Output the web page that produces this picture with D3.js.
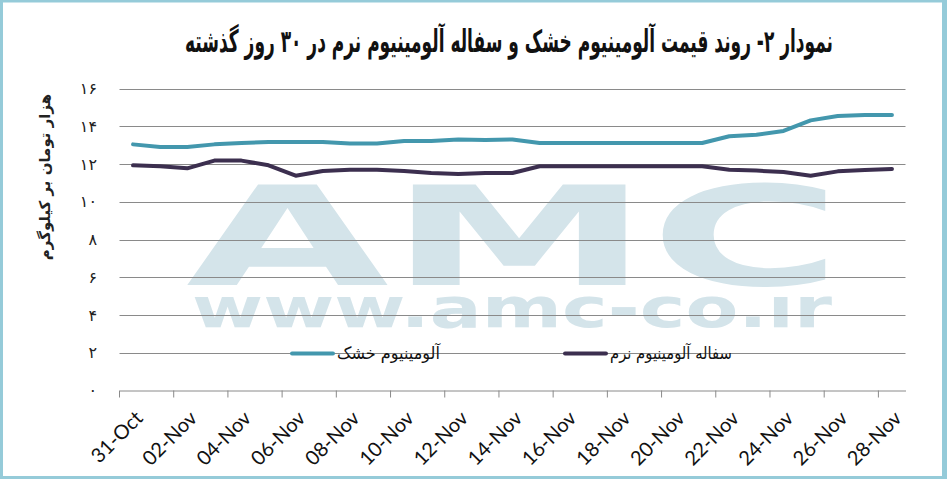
<!DOCTYPE html>
<html>
<head>
<meta charset="utf-8">
<script src="https://cdn.jsdelivr.net/npm/d3@7"></script>
<style>
  body { margin: 0; background: #fff; }
  svg { display: block; }
</style>
</head>
<body>
<script>
// days shown on the x axis (one point per day)
const dates = ['31-Oct', '01-Nov', '02-Nov', '03-Nov', '04-Nov', '05-Nov', '06-Nov', '07-Nov', '08-Nov', '09-Nov',
    '10-Nov', '11-Nov', '12-Nov', '13-Nov', '14-Nov', '15-Nov', '16-Nov', '17-Nov', '18-Nov', '19-Nov',
    '20-Nov', '21-Nov', '22-Nov', '23-Nov', '24-Nov', '25-Nov', '26-Nov', '27-Nov', '28-Nov'];

// آلومینیوم خشک
const dryAl = [13.04, 12.9, 12.9, 13.04, 13.11, 13.17, 13.17, 13.17, 13.08, 13.08,
    13.22, 13.22, 13.3, 13.27, 13.3, 13.11, 13.11, 13.11, 13.11, 13.11,
    13.11, 13.11, 13.47, 13.55, 13.75, 14.31, 14.54, 14.59, 14.59];

// سفاله آلومینیوم نرم
const softScrap = [11.93, 11.88, 11.77, 12.18, 12.18, 11.93, 11.38, 11.63, 11.7, 11.7,
    11.63, 11.52, 11.47, 11.52, 11.52, 11.88, 11.88, 11.88, 11.88, 11.88,
    11.88, 11.88, 11.7, 11.65, 11.58, 11.38, 11.61, 11.68, 11.74];

const yTicks = [0, 2, 4, 6, 8, 10, 12, 14, 16];
const seriesNames = ['آلومینیوم خشک', 'سفاله آلومینیوم نرم'];
const title = 'نمودار ۲- روند قیمت آلومینیوم خشک و سفاله آلومینیوم نرم در ۳۰ روز گذشته';
const yTitle = 'هزار تومان بر کیلوگرم';

const width = 947;
const height = 479;

const colors = ['#4397ad', '#3c2f4f'];

// persian digits for the y labels
const fa = (n) => String(n).replace(/\d/g, (c) => '۰۱۲۳۴۵۶۷۸۹'[+c]);

// squeeze a text horizontally so it takes w pixels, left edge at x
function fitWidth(sel, x, w) {
    sel.each(function () {
        const len = this.getComputedTextLength();
        d3.select(this).attr('transform', `translate(${x},0) scale(${w / len},1)`).attr('x', 0);
    });
}

const svg = d3.select('body').append('svg')
    .attr('width', width)
    .attr('height', height);

svg.append('rect').attr('width', width).attr('height', height).attr('fill', '#fff');

const xscale = d3.scaleBand().domain(dates).range([119.5, 905.5]);
const yscale = d3.scaleLinear().domain([0, 16]).range([390.5, 88.5]);
const bw = xscale.bandwidth();

// watermark
svg.append('clipPath').attr('id', 'wm-clip')
    .append('rect').attr('x', 0).attr('y', 296).attr('width', width).attr('height', 60);

const wm = svg.append('g').attr('fill', '#d4e4ea');
wm.append('text')
    .attr('x', 186).attr('y', 285)
    .attr('font-family', 'DejaVu Sans').attr('font-weight', 'bold')
    .attr('font-size', 138)
    .attr('textLength', 656).attr('lengthAdjust', 'spacingAndGlyphs')
    .text('AMC');
wm.append('text')
    .attr('x', 192).attr('y', 327)
    .attr('clip-path', 'url(#wm-clip)')
    .attr('font-family', 'DejaVu Sans').attr('font-weight', 'bold')
    .attr('font-size', 55)
    .attr('textLength', 640).attr('lengthAdjust', 'spacingAndGlyphs')
    .text('www.amc-co.ir');

// gridlines
svg.append('g').selectAll('line').data(yTicks.filter((d) => d > 0)).join('line')
    .attr('x1', 119.5).attr('x2', 905.5)
    .attr('y1', (d) => Math.round(yscale(d)) + 0.5)
    .attr('y2', (d) => Math.round(yscale(d)) + 0.5)
    .attr('stroke', '#8a8a8a').attr('stroke-width', 1);

// y labels
svg.append('g').selectAll('text').data(yTicks).join('text')
    .attr('x', 97).attr('y', (d) => yscale(d))
    .attr('dy', '0.35em')
    .attr('text-anchor', 'end')
    .attr('font-family', 'DejaVu Sans').attr('font-size', 16)
    .attr('fill', '#222')
    .text((d) => fa(d));

svg.append('text')
    .attr('transform', 'translate(50,177) rotate(-90)')
    .attr('text-anchor', 'middle')
    .attr('direction', 'rtl')
    .attr('font-family', 'DejaVu Sans').attr('font-weight', 'bold').attr('font-size', 15)
    .attr('fill', '#222')
    .text(yTitle);

// x axis
const xaxis = d3.axisBottom(xscale)
    .tickValues(dates.filter((d, i) => i % 2 === 0))
    .tickSize(7).tickSizeOuter(0);
const g_xaxis = svg.append('g')
    .attr('transform', 'translate(0,390.5)')
    .call(xaxis);
g_xaxis.select('.domain').attr('stroke', '#8a8a8a');
g_xaxis.selectAll('.tick line').attr('x1', -bw / 2).attr('x2', -bw / 2).attr('stroke', '#8a8a8a');
g_xaxis.selectAll('.tick text')
    .attr('font-family', 'Lato').attr('font-size', 20).attr('fill', '#111')
    .attr('text-anchor', 'end')
    .attr('y', 0).attr('dy', '0.35em')
    .attr('transform', 'translate(6,24) rotate(-45)');

// lines
const line = d3.line()
    .x((d, i) => xscale(dates[i]) + bw / 2)
    .y((d) => yscale(d));

[dryAl, softScrap].forEach((s, k) => {
    svg.append('path').datum(s)
        .attr('d', line)
        .attr('fill', 'none')
        .attr('stroke', colors[k])
        .attr('stroke-width', 4)
        .attr('stroke-linejoin', 'round')
        .attr('stroke-linecap', 'round');
});

// legend
const legendX = [292, 565];
const legendW = [103, 122];
const legend = svg.append('g').selectAll('g').data(seriesNames).join('g')
    .attr('transform', (d, i) => `translate(${legendX[i]},353.5)`);
legend.append('line')
    .attr('x1', 0).attr('x2', 41)
    .attr('stroke', (d, i) => colors[i]).attr('stroke-width', 4)
    .attr('stroke-linecap', 'round');
legend.append('text')
    .attr('y', 0).attr('dy', '0.35em')
    .attr('font-family', 'DejaVu Sans').attr('font-size', 17)
    .attr('fill', '#111')
    .text((d) => d)
    .each(function (d, i) {
        fitWidth(d3.select(this), 45, legendW[i]);
    });

// title
svg.append('text')
    .attr('y', 52)
    .attr('direction', 'rtl')
    .attr('text-anchor', 'end')
    .attr('font-family', 'DejaVu Sans').attr('font-weight', 'bold').attr('font-size', 31)
    .attr('fill', '#111')
    .text(title)
    .call(fitWidth, 185, 648);

// frame
svg.append('rect')
    .attr('x', 1.5).attr('y', 1).attr('width', width - 4.5).attr('height', height - 2.5)
    .attr('fill', 'none').attr('stroke', '#95cbd9').attr('stroke-width', 3);
svg.append('rect').attr('x', width - 5).attr('y', 0).attr('width', 5).attr('height', height).attr('fill', '#95cbd9');
</script>
</body>
</html>
